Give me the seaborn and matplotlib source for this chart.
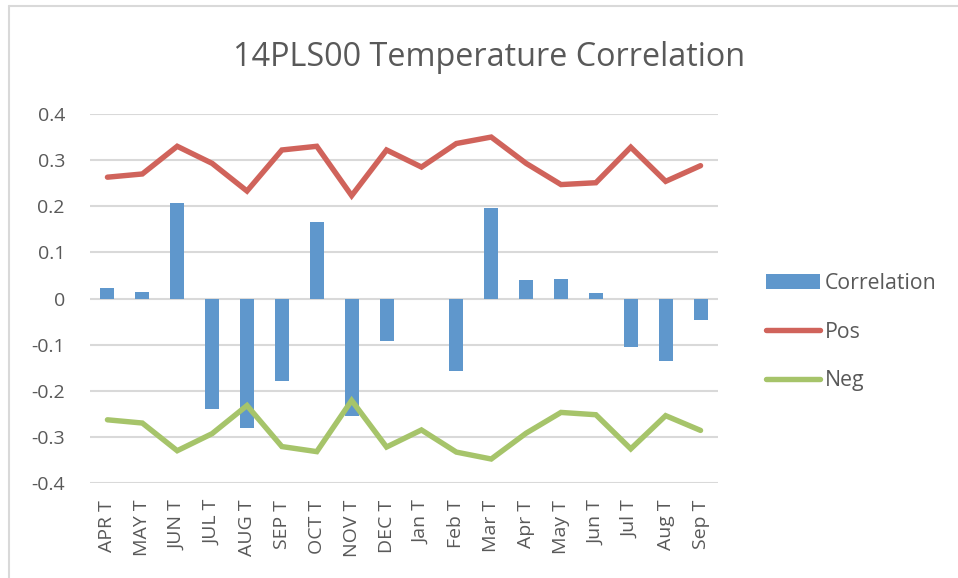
import numpy as np
import pandas as pd
import matplotlib
matplotlib.use("Agg")
import matplotlib.pyplot as plt
import seaborn as sns
from matplotlib.patches import Patch
from matplotlib.lines import Line2D

categories = ["APR T", "MAY T", "JUN T", "JUL T", "AUG T", "SEP T", "OCT T", "NOV T", "DEC T",
              "Jan T", "Feb T", "Mar T", "Apr T", "May T", "Jun T", "Jul T", "Aug T", "Sep T"]
correlation = [0.022, 0.015, 0.207, -0.239, -0.281, -0.178, 0.166, -0.255, -0.093,
               -0.002, -0.158, 0.196, 0.041, 0.042, 0.011, -0.106, -0.136, -0.047]
pos = [0.263, 0.270, 0.330, 0.293, 0.233, 0.322, 0.330, 0.223, 0.322,
       0.285, 0.336, 0.350, 0.293, 0.247, 0.251, 0.328, 0.254, 0.288]
neg = [-0.263, -0.270, -0.330, -0.293, -0.232, -0.321, -0.332, -0.221, -0.322,
       -0.285, -0.333, -0.348, -0.292, -0.247, -0.252, -0.326, -0.254, -0.286]
yticks = [-0.4, -0.3, -0.2, -0.1, 0, 0.1, 0.2, 0.3, 0.4]
ytick_labels = ["-0.4", "-0.3", "-0.2", "-0.1", "0", "0.1", "0.2", "0.3", "0.4"]
title = "14PLS00 Temperature Correlation"

BLUE = "#5F97CC"
RED = "#D0635B"
GREEN = "#A6C46A"
TXT = "#595959"
GRID = "#D9D9D9"

sns.set_theme(style="white")
plt.rcParams["font.family"] = ["Open Sans", "DejaVu Sans"]

df = pd.DataFrame({"cat": categories, "corr": correlation, "pos": pos, "neg": neg,
                   "idx": np.arange(len(categories))})

W, H = 958, 578
fig = plt.figure(figsize=(W / 100, H / 100), dpi=100)
ax = fig.add_axes([90 / W, 1 - 483 / H, 628 / W, 369 / H])

for y in yticks:
    ax.axhline(y, color=GRID, lw=1.5, zorder=0)

sns.barplot(data=df, x="cat", y="corr", color=BLUE, width=0.4, saturation=1,
            ax=ax, zorder=2, edgecolor="none")
sns.lineplot(data=df, x="idx", y="pos", color=RED, lw=3.9, ax=ax, zorder=3,
             solid_capstyle="round", solid_joinstyle="miter", sort=False)
sns.lineplot(data=df, x="idx", y="neg", color=GREEN, lw=3.9, ax=ax, zorder=3,
             solid_capstyle="round", solid_joinstyle="miter", sort=False)

ax.set_xlim(-0.5, len(categories) - 0.5)
ax.set_ylim(-0.4, 0.4)
ax.set_yticks(yticks)
ax.set_yticklabels(ytick_labels)
ax.set_xticks(range(len(categories)))
ax.set_xticklabels(categories, rotation=90)
ax.tick_params(axis="y", length=0, pad=18, labelsize=14, labelcolor=TXT)
ax.tick_params(axis="x", length=0, pad=12, labelsize=14, labelcolor=TXT)
for lab in ax.get_xticklabels():
    lab.set_verticalalignment("top")
ax.set_xlabel("")
ax.set_ylabel("")
for s in ax.spines.values():
    s.set_visible(False)
ax.set_facecolor("none")

fig.text(489.5 / W, 1 - 57 / H, title, ha="center", va="center", fontsize=23.3, color=TXT)

# chart border lines (top and left)
fig.add_artist(Line2D([8.5 / W, 8.5 / W], [0, 1 - 5.5 / H], color=GRID, lw=1.5))
fig.add_artist(Line2D([8.5 / W, 1], [1 - 5.5 / H, 1 - 5.5 / H], color=GRID, lw=1.5))

handles = [Patch(facecolor=BLUE, edgecolor="none"),
           Line2D([], [], color=RED, lw=3.9, solid_capstyle="round"),
           Line2D([], [], color=GREEN, lw=3.9, solid_capstyle="round")]
leg = fig.legend(handles, ["Correlation", "Pos", "Neg"], loc="center left",
                 bbox_to_anchor=(766 / W, 1 - 332 / H), frameon=False,
                 fontsize=15.3, handlelength=2.55, handleheight=0.65,
                 handletextpad=0.2, labelspacing=1.3, borderaxespad=0, borderpad=0)
for t in leg.get_texts():
    t.set_color(TXT)

fig.savefig("out.png", dpi=100, facecolor="white")
